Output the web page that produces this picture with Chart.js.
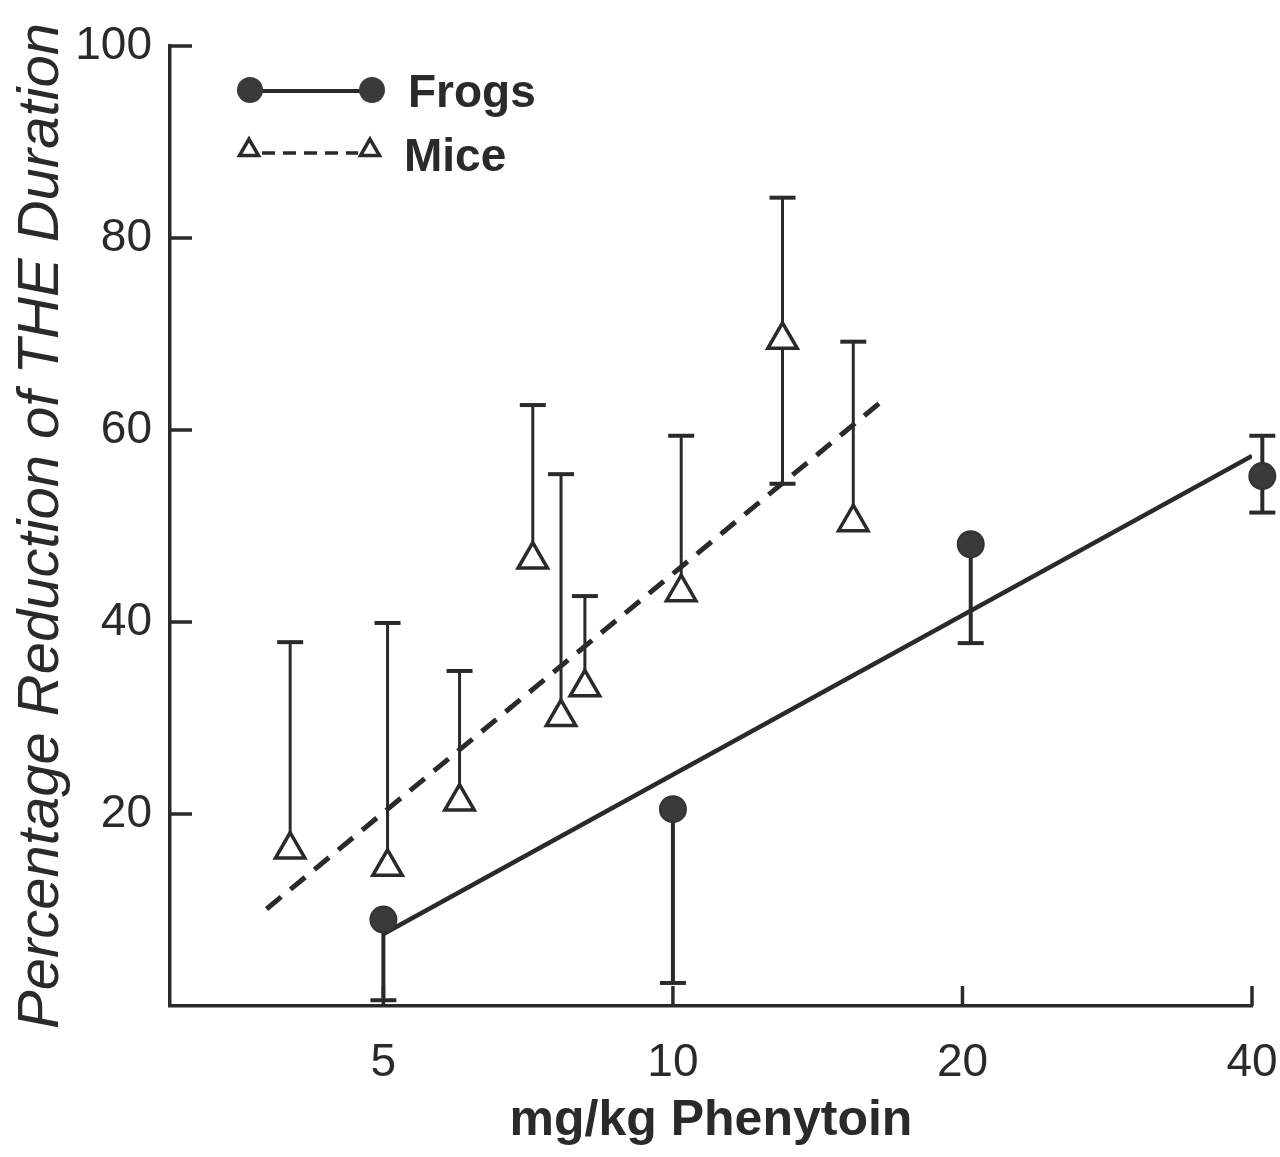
<!DOCTYPE html>
<html>
<head>
<meta charset="utf-8">
<title>Phenytoin dose response</title>
<script src="https://cdn.jsdelivr.net/npm/chart.js@4.4.1/dist/chart.umd.min.js"></script>
<style>
  html, body { margin: 0; padding: 0; background: #fff; }
  #wrap { width: 1280px; height: 1157px; position: relative; }
</style>
</head>
<body>
<div id="wrap"><canvas id="doseChart"></canvas></div>
<script>
// dose axis (log) and response axis ticks
const doseTicks = [5, 10, 20, 40];
const pctTicks = [20, 40, 60, 80, 100];

// frogs: mean reduction with one-sided / two-sided error bars
const frogDose = [5, 10, 20.4, 41];
const frogPct = [9, 20.5, 48.1, 55.2];
const frogErrLo = [0.6, 2.4, 37.8, 51.4];
const frogErrHi = [null, null, null, 59.4];

// mice
const miceDose = [4, 5.05, 6, 7.15, 7.65, 8.1, 10.2, 13, 15.4];
const micePct = [16.3, 14.5, 21.3, 46.5, 30.1, 33.2, 43.1, 69.4, 50.4];
const miceErrHi = [37.9, 39.9, 34.9, 62.6, 55.4, 42.7, 59.4, 84.2, 69.2];
const miceErrLo = [null, null, null, null, null, null, null, 54.4, null];

// fitted regression lines (end points)
const frogFitDose = [5, 40];
const frogFitPct = [7.5, 57.3];
const miceFitDose = [3.78, 16.4];
const miceFitPct = [10.1, 62.8];

const INK = '#2a2a2a';
const FONT = "'Liberation Sans', Arial, sans-serif";

const toPoints = (xs, ys) => xs.map((x, i) => ({ x: x, y: ys[i] }));

// vertical error bars with caps, drawn under the markers
const errorBars = {
  id: 'errorBars',
  beforeDatasetsDraw(chart) {
    const { ctx, scales: { x, y } } = chart;
    const sets = [
      { xs: frogDose, ys: frogPct, lo: frogErrLo, hi: frogErrHi, w: 4 },
      { xs: miceDose, ys: micePct, lo: miceErrLo, hi: miceErrHi, w: 3 }
    ];
    ctx.save();
    ctx.strokeStyle = INK;
    ctx.lineCap = 'butt';
    sets.forEach(s => {
      s.xs.forEach((d, i) => {
        const px = x.getPixelForValue(d);
        const py = y.getPixelForValue(s.ys[i]);
        [s.lo[i], s.hi[i]].forEach(end => {
          if (end === null) return;
          const pe = y.getPixelForValue(end);
          ctx.lineWidth = s.w;
          ctx.beginPath();
          ctx.moveTo(px, py);
          ctx.lineTo(px, pe);
          ctx.stroke();
          ctx.lineWidth = 4;
          ctx.beginPath();
          ctx.moveTo(px - 13, pe);
          ctx.lineTo(px + 13, pe);
          ctx.stroke();
        });
      });
    });
    ctx.restore();
  }
};

// tick marks pointing into the plot, plus the legend in the upper left
const axisDecor = {
  id: 'axisDecor',
  afterDraw(chart) {
    const { ctx, chartArea, scales: { x, y } } = chart;
    ctx.save();
    ctx.strokeStyle = INK;
    ctx.lineWidth = 3.5;
    pctTicks.forEach(v => {
      const py = y.getPixelForValue(v);
      ctx.beginPath();
      ctx.moveTo(chartArea.left, py);
      ctx.lineTo(chartArea.left + 22, py);
      ctx.stroke();
    });
    doseTicks.forEach(v => {
      const px = x.getPixelForValue(v);
      ctx.beginPath();
      ctx.moveTo(px, chartArea.bottom);
      ctx.lineTo(px, chartArea.bottom - 20);
      ctx.stroke();
    });

    // legend
    const ds = chart.data.datasets;
    ctx.lineWidth = 4;
    ctx.beginPath();
    ctx.moveTo(250, 91);
    ctx.lineTo(372, 91);
    ctx.stroke();
    ctx.fillStyle = '#3a3a3a';
    [250, 372].forEach(cx => {
      ctx.beginPath();
      ctx.arc(cx, 90, 13, 0, Math.PI * 2);
      ctx.fill();
    });

    ctx.lineWidth = 3.5;
    ctx.setLineDash([13, 8]);
    ctx.beginPath();
    ctx.moveTo(262, 153);
    ctx.lineTo(358, 153);
    ctx.stroke();
    ctx.setLineDash([]);
    [249, 370].forEach(cx => {
      const r = 11;
      ctx.beginPath();
      ctx.moveTo(cx, 150 - r);
      ctx.lineTo(cx + r * Math.sin(2 * Math.PI / 3), 150 + r / 2);
      ctx.lineTo(cx - r * Math.sin(2 * Math.PI / 3), 150 + r / 2);
      ctx.closePath();
      ctx.fillStyle = '#fff';
      ctx.fill();
      ctx.stroke();
    });

    ctx.fillStyle = INK;
    ctx.font = 'bold 46px ' + FONT;
    ctx.textBaseline = 'alphabetic';
    ctx.fillText(ds[0].label, 408, 107);
    ctx.fillText(ds[1].label, 404, 171);
    ctx.restore();
  }
};

const ctx = document.getElementById('doseChart').getContext('2d');
new Chart(ctx, {
  type: 'scatter',
  data: {
    datasets: [
      {
        label: 'Frogs',
        data: toPoints(frogDose, frogPct),
        pointStyle: 'circle',
        pointRadius: 13,
        pointBackgroundColor: '#3a3a3a',
        pointBorderColor: '#333',
        pointBorderWidth: 2,
        clip: false
      },
      {
        label: 'Mice',
        data: toPoints(miceDose, micePct),
        pointStyle: 'triangle',
        pointRadius: 17,
        pointBackgroundColor: '#fff',
        pointBorderColor: INK,
        pointBorderWidth: 3.5,
        clip: false
      },
      {
        label: 'Frogs fit',
        data: toPoints(frogFitDose, frogFitPct),
        showLine: true,
        pointRadius: 0,
        borderColor: INK,
        borderWidth: 4.5
      },
      {
        label: 'Mice fit',
        data: toPoints(miceFitDose, miceFitPct),
        showLine: true,
        pointRadius: 0,
        borderColor: INK,
        borderWidth: 5,
        borderDash: [19, 12]
      }
    ]
  },
  options: {
    responsive: true,
    maintainAspectRatio: false,
    animation: false,
    events: [],
    layout: { padding: { top: 46, right: 28, left: 0, bottom: 0 } },
    plugins: {
      legend: { display: false },
      tooltip: { enabled: false }
    },
    scales: {
      x: {
        type: 'logarithmic',
        min: 3,
        max: 40,
        afterBuildTicks: scale => { scale.ticks = doseTicks.map(v => ({ value: v })); },
        afterFit: scale => {
          scale.height = 151;
          scale.paddingLeft = 0;
          scale.paddingRight = 0;
        },
        grid: { display: false },
        border: { display: true, color: INK, width: 3.5 },
        ticks: {
          color: INK,
          padding: 22,
          font: { family: FONT, size: 46 },
          callback: v => String(v)
        },
        title: {
          display: true,
          text: 'mg/kg Phenytoin',
          color: INK,
          font: { family: FONT, size: 50, weight: 'bold' },
          padding: { top: 0, bottom: 6 }
        }
      },
      y: {
        min: 0,
        max: 100,
        afterBuildTicks: scale => { scale.ticks = pctTicks.map(v => ({ value: v })); },
        afterFit: scale => { scale.width = 170; },
        grid: { display: false },
        border: { display: true, color: INK, width: 3.5 },
        ticks: {
          color: INK,
          padding: 10,
          font: { family: FONT, size: 46 },
          callback: v => String(v)
        },
        title: {
          display: true,
          text: 'Percentage Reduction of THE Duration',
          color: INK,
          font: { family: FONT, size: 58, style: 'italic' },
          padding: { top: 7, bottom: 0 }
        }
      }
    }
  },
  plugins: [errorBars, axisDecor]
});
</script>
</body>
</html>
